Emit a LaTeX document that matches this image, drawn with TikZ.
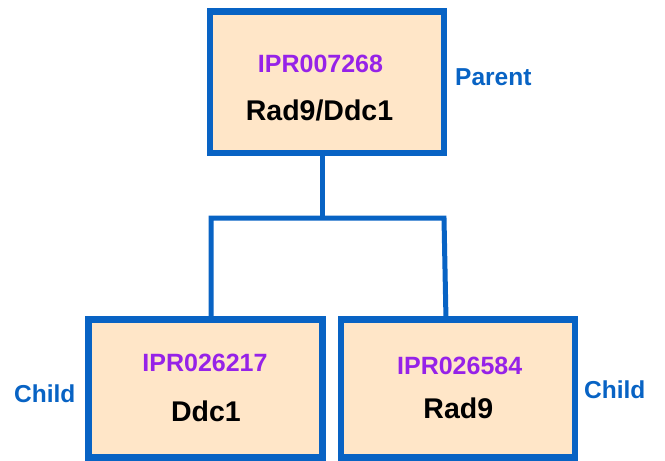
\documentclass[tikz,border=0pt]{standalone}
\usepackage{fontspec}
\setmainfont{Liberation Sans}
\definecolor{edgeblue}{RGB}{8,99,196}
\definecolor{boxfill}{RGB}{255,230,200}
\definecolor{iprpurple}{RGB}{150,34,232}
\tikzset{
  entrybox/.style={draw=edgeblue, fill=boxfill, line width=6.5pt, rectangle,
    minimum width=234pt, inner sep=0pt},
  link/.style={draw=edgeblue, line width=5pt},
  iprid/.style={text=iprpurple, font=\bfseries\fontsize{25}{30}\selectfont, anchor=base, inner sep=0pt},
  entryname/.style={text=black, font=\bfseries\fontsize{28.5}{34}\selectfont, anchor=base, inner sep=0pt},
  rolelabel/.style={text=edgeblue, font=\bfseries\fontsize{24.5}{29}\selectfont, anchor=base west, inner sep=0pt}
}
\begin{document}
\begin{tikzpicture}[x=1pt,y=-1pt]
  \useasboundingbox (0,0) rectangle (665,461);

  % hierarchy connectors (behind the boxes)
  \coordinate (stemtop) at (322,153);
  \coordinate (hub) at (322,218);
  \coordinate (barleft) at (211,218);
  \coordinate (barright) at (444,218);
  \coordinate (dropleft) at (211,320);
  \coordinate (dropright) at (446,320);
  \draw[link] (stemtop) -- (hub);
  \draw[link, line cap=rect] (dropleft) -- (barleft) -- (barright) -- (dropright);

  % entry boxes
  \node[entrybox, minimum height=141.5pt] (parent) at (327,82.25) {};
  \node[entrybox, minimum height=138pt] (childA) at (205.5,388.5) {};
  \node[entrybox, minimum height=138pt] (childB) at (458,388.5) {};

  % parent entry text
  \node[iprid] (parentid) at (320.5,72) {IPR007268};
  \node[entryname] (parentname) at (319.5,120) {Rad9/Ddc1};

  % child entry texts
  \node[iprid] (childAid) at (205,371) {IPR026217};
  \node[entryname] (childAname) at (206,421) {Ddc1};
  \node[iprid] (childBid) at (459.7,374.3) {IPR026584};
  \node[entryname] (childBname) at (458.3,418.3) {Rad9};

  % role labels
  \node[rolelabel] (parentrole) at (455,85) {Parent};
  \node[rolelabel] (childArole) at (14,402.5) {Child};
  \node[rolelabel] (childBrole) at (584,398.5) {Child};
\end{tikzpicture}
\end{document}
